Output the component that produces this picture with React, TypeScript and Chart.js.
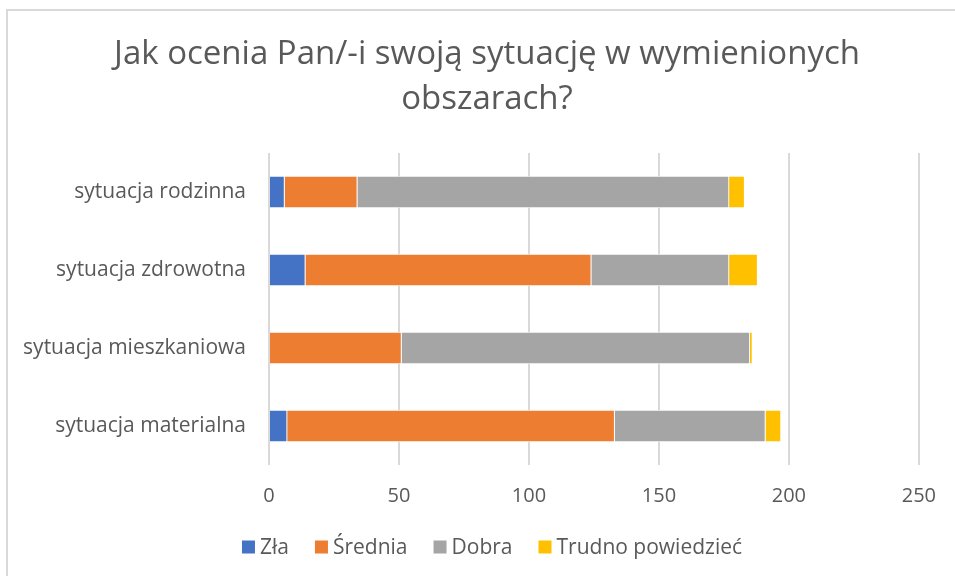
import React, { useEffect, useRef } from "react";
import { Chart, registerables } from "chart.js";

Chart.register(...registerables);

const titleLines = ["Jak ocenia Pan/-i swoją sytuację w wymienionych", "obszarach?"];
const categories = ["sytuacja rodzinna", "sytuacja zdrowotna", "sytuacja mieszkaniowa", "sytuacja materialna"];
const seriesNames = ["Zła", "Średnia", "Dobra", "Trudno powiedzieć"];
const zla = [6, 14, 0, 7];
const srednia = [28, 110, 51, 126];
const dobra = [143, 53, 134, 58];
const trudno = [6, 11, 1, 6];
const seriesColors = ["#4472C4", "#ED7D31", "#A5A5A5", "#FFC000"];
const xMax = 250;
const xStep = 50;

const FONT = "'Open Sans', 'Noto Sans', sans-serif";
const TEXT = "#595959";

// Title and legend drawn centred on the chart frame (as in the source figure)
const frameDecor = {
  id: "frameDecor",
  afterDraw(chart: any) {
    const ctx = chart.ctx as CanvasRenderingContext2D;
    ctx.save();
    // title
    ctx.fillStyle = TEXT;
    ctx.font = `normal 33px ${FONT}`;
    ctx.textAlign = "center";
    ctx.textBaseline = "middle";
    titleLines.forEach((line, i) => ctx.fillText(line, 487, 55 + i * 45));
    // legend
    ctx.font = `normal 21px ${FONT}`;
    ctx.textAlign = "left";
    const box = 13;
    const gapText = 5;
    const gapItem = 26;
    const widths = chart.data.datasets.map((d: any) => box + gapText + ctx.measureText(d.label).width);
    const total = widths.reduce((a: number, b: number) => a + b, 0) + gapItem * (widths.length - 1);
    let x = 492 - total / 2;
    const y = 547;
    chart.data.datasets.forEach((d: any, i: number) => {
      ctx.fillStyle = d.backgroundColor;
      ctx.fillRect(x, y - box / 2, box, box);
      ctx.fillStyle = TEXT;
      ctx.fillText(d.label, x + box + gapText, y + 1);
      x += widths[i] + gapItem;
    });
    ctx.restore();
  },
};

export default function App() {
  const ref = useRef<HTMLCanvasElement | null>(null);

  useEffect(() => {
    document.body.style.margin = "0";
    const values = [zla, srednia, dobra, trudno];
    const chart = new Chart(ref.current as HTMLCanvasElement, {
      type: "bar",
      data: {
        labels: categories,
        datasets: seriesNames.map((name, i) => ({
          label: name,
          data: values[i],
          backgroundColor: seriesColors[i],
          borderColor: "#ffffff",
          borderWidth: 0.8,
          barPercentage: 0.82,
          categoryPercentage: 0.5,
        })),
      },
      options: {
        indexAxis: "y",
        animation: false,
        responsive: false,
        maintainAspectRatio: false,
        layout: { padding: { top: 153, left: 0, right: 35, bottom: 58 } },
        scales: {
          x: {
            stacked: true,
            min: 0,
            max: xMax,
            ticks: { stepSize: xStep, color: TEXT, font: { family: FONT, size: 20 }, padding: 19 },
            grid: { color: "#d9d9d9", lineWidth: 2, drawTicks: false },
            border: { display: false },
            afterFit: (scale: any) => {
              scale.height = 53;
            },
          },
          y: {
            stacked: true,
            ticks: { color: TEXT, font: { family: FONT, size: 21 }, padding: 23 },
            grid: { display: false, drawTicks: false },
            border: { display: false },
            afterFit: (scale: any) => {
              scale.width = 269;
            },
          },
        },
        plugins: {
          title: { display: false },
          legend: { display: false },
          tooltip: { enabled: false },
        },
      },
      plugins: [frameDecor],
    });
    return () => chart.destroy();
  }, []);

  return (
    <div style={{ position: "relative", width: 955, height: 576, background: "#fff", overflow: "hidden" }}>
      <div
        style={{
          position: "absolute",
          left: 6,
          top: 9,
          width: 1000,
          height: 600,
          borderTop: "2px solid #d9d9d9",
          borderLeft: "2px solid #d9d9d9",
          pointerEvents: "none",
        }}
      />
      <canvas ref={ref} width={955} height={576} style={{ position: "absolute", left: 0, top: 0 }} />
    </div>
  );
}
